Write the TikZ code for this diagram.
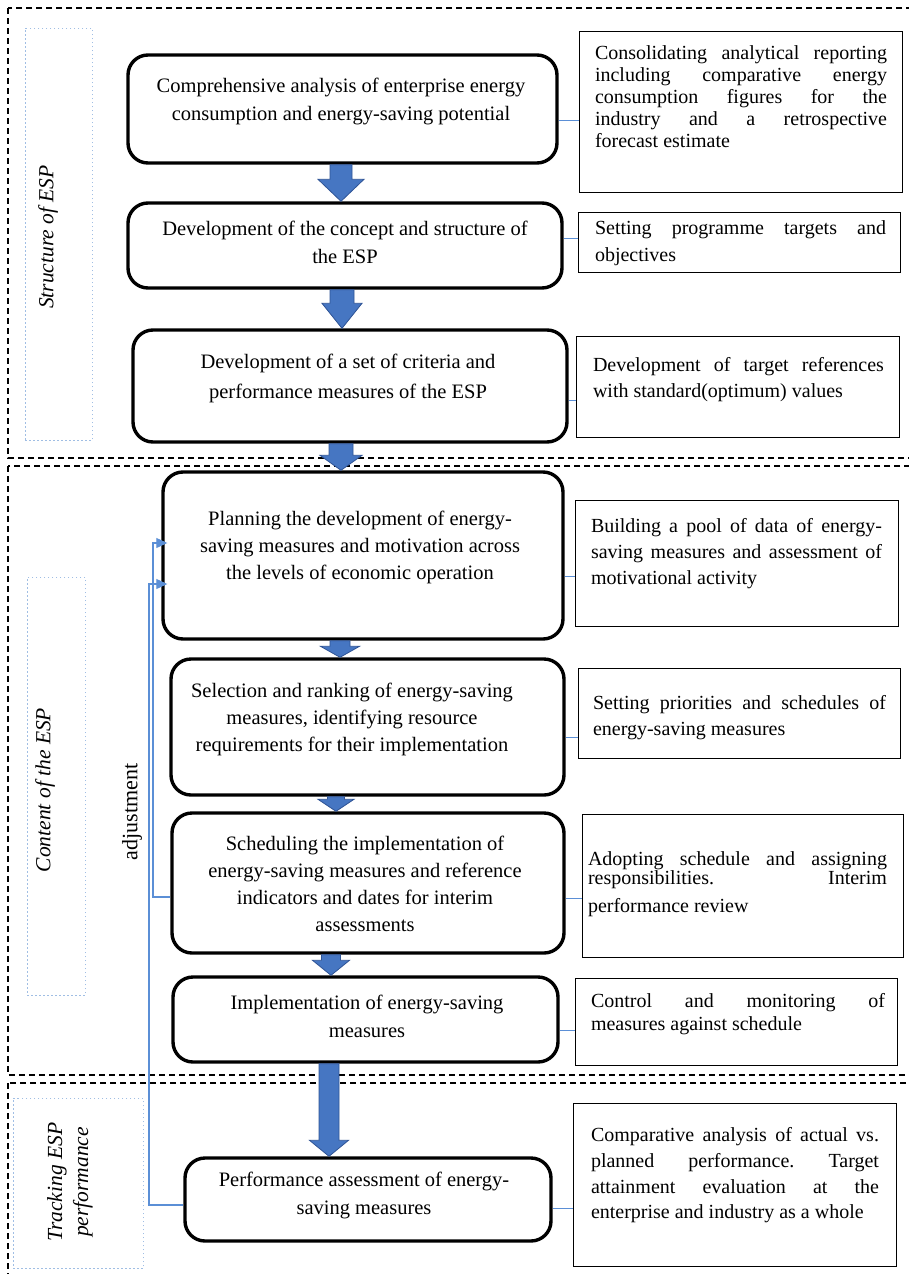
\documentclass[tikz,border=0pt]{standalone}
\usepackage{fontspec}
\setmainfont{Liberation Serif}
\usetikzlibrary{arrows.meta,calc}
\frenchspacing
\tolerance=10000
\hbadness=10000
\hyphenpenalty=10000
\definecolor{arrowfill}{RGB}{70,118,194}
\definecolor{arrowline}{RGB}{47,84,150}
\definecolor{connblue}{RGB}{91,143,214}
\definecolor{dotblue}{RGB}{160,190,228}
\tikzset{
  stepbox/.style={draw=black, line width=3.4pt, rounded corners=20pt, fill=white, inner sep=0pt},
  steptext/.style={align=center, inner sep=0pt, font=\fontsize{20.5}{28}\selectfont},
  notebox/.style={draw=black, line width=1pt, inner sep=0pt},
  notetext/.style={align=justify, inner sep=0pt, font=\fontsize{20}{20}\selectfont},
  frame/.style={draw=black, line width=1.2pt, dash pattern=on 6pt off 4pt},
  labbox/.style={draw=dotblue, line width=1pt, dash pattern=on 1.5pt off 2.5pt, inner sep=0pt},
  labtext/.style={rotate=90, align=center, inner sep=0pt, font=\fontsize{21.5}{26}\selectfont\itshape},
  conn/.style={draw=connblue, line width=1pt},
  adj/.style={draw=connblue, line width=1.1pt, -{Triangle[length=11pt,width=10pt]}},
  blockarrow/.style={fill=arrowfill, draw=arrowline, line width=0.8pt},
}
\newcommand\blockarr[6]{%
  \path[blockarrow] let \p1=(#1.south), \p2=(#2.north) in
   (#3pt-#4pt,\y1) -- (#3pt+#4pt,\y1) -- (#3pt+#4pt,\y2+#6pt) -- (#3pt+#5pt,\y2+#6pt)
   -- (#3pt,\y2) -- (#3pt-#5pt,\y2+#6pt) -- (#3pt-#4pt,\y2+#6pt) -- cycle;}
\begin{document}
\begin{tikzpicture}[x=1pt,y=-1pt]
\useasboundingbox (0,0) rectangle (909,1274);
\clip (0,0) rectangle (909,1274);
\fill[white] (0,0) rectangle (909,1274);
% section frames
\draw[frame] (8,8) rectangle (930,458);
\draw[frame] (8,466) rectangle (930,1075);
\draw[frame] (8,1083) rectangle (930,1300);
% label boxes
\node[labbox, minimum width=67, minimum height=412] (lb1) at (58.5,234) {};
\node[labtext] (lt1) at (48,237) {Structure of ESP};
\node[labbox, minimum width=58, minimum height=418] (lb2) at (56,786) {};
\node[labtext] (lt2) at (45,790) {Content of the ESP};
\node[labbox, minimum width=130, minimum height=170] (lb3) at (78,1183) {};
\node[labtext] (lt3) at (70,1182) {Tracking ESP\\performance};
\node[rotate=90, inner sep=0pt, font=\fontsize{22}{24}\selectfont] (adjl) at (132,812) {adjustment};
% step boxes
\node[stepbox, minimum width=429, minimum height=108] (b1) at (342.5,109) {};
\node[stepbox, minimum width=434, minimum height=85] (b2) at (345,245.5) {};
\node[stepbox, minimum width=434, minimum height=112] (b3) at (350,386) {};
\node[stepbox, minimum width=400, minimum height=167] (b4) at (363,555.5) {};
\node[stepbox, minimum width=393, minimum height=136] (b5) at (367.5,727) {};
\node[stepbox, minimum width=392, minimum height=140] (b6) at (368,883) {};
\node[stepbox, minimum width=385, minimum height=85] (b7) at (365.5,1019.5) {};
\node[stepbox, minimum width=366, minimum height=83] (b8) at (368,1199.5) {};
\node[steptext] (t1) at (341,101) {Comprehensive analysis of enterprise energy\\consumption and energy-saving potential};
\node[steptext] (t2) at (345,242) {Development of the concept and structure of\\the ESP};
\node[steptext, font=\fontsize{20.5}{30}\selectfont] (t3) at (348,378.5) {Development of a set of criteria and\\performance measures of the ESP};
\node[steptext, font=\fontsize{20.5}{27}\selectfont] (t4) at (360,547) {Planning the development of energy-\\saving measures and motivation across\\the levels of economic operation};
\node[steptext, font=\fontsize{20.5}{27}\selectfont] (t5) at (352,719) {Selection and ranking of energy-saving\\measures, identifying resource\\requirements for their implementation};
\node[steptext, font=\fontsize{20.5}{27}\selectfont] (t6) at (365,883.5) {Scheduling the implementation of\\energy-saving measures and reference\\indicators and dates for interim\\assessments};
\node[steptext] (t7) at (367,1016) {Implementation of energy-saving\\measures};
\node[steptext] (t8) at (364,1195) {Performance assessment of energy-\\saving measures};
% note boxes
\node[notebox, minimum width=323, minimum height=161] (r1) at (740.5,111.5) {};
\node[notebox, minimum width=322, minimum height=60] (r2) at (739,242) {};
\node[notebox, minimum width=323, minimum height=101] (r3) at (737.5,386.5) {};
\node[notebox, minimum width=323, minimum height=126] (r4) at (736.5,563) {};
\node[notebox, minimum width=322, minimum height=90] (r5) at (739,713) {};
\node[notebox, minimum width=321, minimum height=143] (r6) at (742.5,885.5) {};
\node[notebox, minimum width=322, minimum height=87] (r7) at (736,1021.5) {};
\node[notebox, minimum width=323, minimum height=163] (r8) at (734.5,1184.5) {};
\node[notetext, text width=292, font=\fontsize{20}{22}\selectfont] (n1) at (741,97) {Consolidating analytical reporting\linebreak including comparative energy\linebreak consumption figures for the\linebreak industry and a retrospective\linebreak forecast estimate};
\node[notetext, text width=291, font=\fontsize{20}{27}\selectfont] (n2) at (740.5,243.5) {Setting programme targets and\linebreak objectives};
\node[notetext, text width=291, font=\fontsize{20}{26}\selectfont] (n3) at (738.5,380) {Development of target references\linebreak with standard(optimum) values};
\node[notetext, text width=291, font=\fontsize{20}{26}\selectfont] (n4) at (736.5,554) {Building a pool of data of energy-\linebreak saving measures and assessment of\linebreak motivational activity};
\node[notetext, text width=293, font=\fontsize{20}{26}\selectfont] (n5) at (739.5,718) {Setting priorities and schedules of\linebreak energy-saving measures};
\node[notetext, text width=299, font=\fontsize{20}{19.5}\selectfont] (n6) at (737.5,884) {Adopting schedule and assigning\linebreak responsibilities. Interim\vadjust{\vskip 8pt}\linebreak performance review};
\node[notetext, text width=294, font=\fontsize{20}{23}\selectfont] (n7) at (738,1014) {Control and monitoring of\linebreak measures against schedule};
\node[notetext, text width=288, font=\fontsize{20}{25.6}\selectfont] (n8) at (735,1175.5) {Comparative analysis of actual vs.\linebreak planned performance. Target\linebreak attainment evaluation at the\linebreak enterprise and industry as a whole};
% connectors to notes
\draw[conn] (b1.east |- 0,120) -- (r1.west |- 0,120);
\draw[conn] (b2.east |- 0,238) -- (r2.west |- 0,238);
\draw[conn] (b3.east |- 0,400) -- (r3.west |- 0,400);
\draw[conn] (b4.east |- 0,576) -- (r4.west |- 0,576);
\draw[conn] (b5.east |- 0,737) -- (r5.west |- 0,737);
\draw[conn] (b6.east |- 0,898) -- (r6.west |- 0,898);
\draw[conn] (b7.east |- 0,1030) -- (r7.west |- 0,1030);
\draw[conn] (b8.east |- 0,1208) -- (r8.west |- 0,1208);
% adjustment feedback
\coordinate (adjA) at (153,543);
\coordinate (adjB) at (149,584);
\draw[adj] ([yshift=-14pt]b6.west) -| (adjA) -- ([xshift=6pt]adjA -| b4.west);
\draw[adj] ([yshift=-5.5pt]b8.west) -| (adjB) -- ([xshift=6pt]adjB -| b4.west);
% block arrows
\blockarr{b1}{b2}{341}{11}{23}{22}
\blockarr{b2}{b3}{342}{12}{20}{25}
\blockarr{b3}{b4}{341}{12}{21}{15}
\blockarr{b4}{b5}{340}{10}{19.5}{11}
\blockarr{b5}{b6}{336}{8.5}{18}{12}
\blockarr{b6}{b7}{331}{9.5}{18.5}{15}
\blockarr{b7}{b8}{329}{10}{19.5}{16}
\end{tikzpicture}
\end{document}
